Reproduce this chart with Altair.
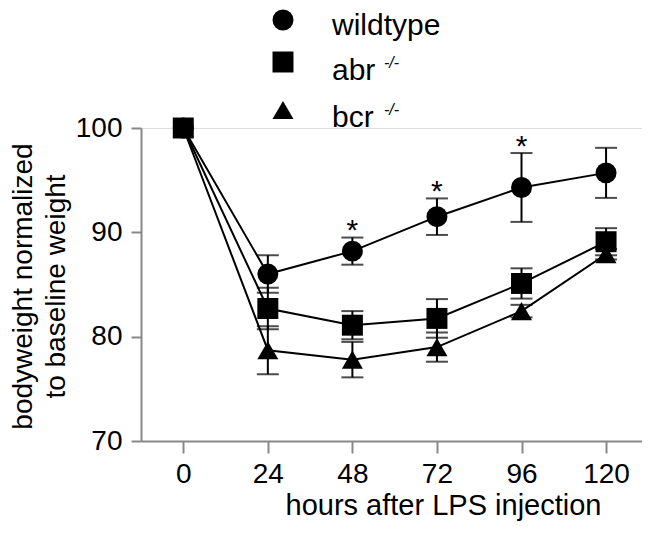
import altair as alt
import pandas as pd

# ---- data ----
hours = [0, 24, 48, 72, 96, 120]
series = ["wildtype", "abr", "bcr"]
superscripts = ["", "-/-", "-/-"]
shapes = ["circle", "square", "triangle-up"]

wildtype_mean = [100, 86.0, 88.2, 91.5, 94.3, 95.7]
wildtype_sem = [0, 1.8, 1.3, 1.75, 3.3, 2.4]
abr_mean = [100, 82.7, 81.1, 81.75, 85.1, 89.1]
abr_sem = [0, 2.0, 1.35, 1.85, 1.45, 1.3]
bcr_mean = [100, 78.7, 77.8, 79.0, 82.45, 87.9]
bcr_sem = [0, 2.3, 1.7, 1.4, 0.6, 0.5]
significant = [False, False, True, True, True, False]

x_ticks = [0, 24, 48, 72, 96, 120]
y_ticks = [70, 80, 90, 100]

FONT = "Liberation Sans"

# draw order: wildtype, bcr, abr (abr squares on top)
rows = []
for name, means, sems in [("wildtype", wildtype_mean, wildtype_sem),
                          ("bcr", bcr_mean, bcr_sem),
                          ("abr", abr_mean, abr_sem)]:
    for i, (h, m, s) in enumerate(zip(hours, means, sems)):
        rows.append({"series": name, "hours": h, "mean": m, "sem": s,
                     "lo": m - s, "hi": m + s,
                     "sig": bool(significant[i]) if name == "wildtype" else False})
df = pd.DataFrame(rows)

xscale = alt.Scale(domain=[-12, 130.2], nice=False, zero=False)
yscale = alt.Scale(domain=[70, 100], nice=False, zero=False)

xaxis = alt.Axis(values=x_ticks, title="hours after LPS injection", grid=False,
                 tickSize=12, tickWidth=2, domainWidth=2,
                 labelFontSize=28, labelBaseline="alphabetic", labelPadding=29,
                 labelFlush=False, labelOverlap=False,
                 titleFontSize=29, titleFontWeight="normal", titleX=302, titleY=73,
                 titleBaseline="alphabetic", titleAlign="center")
yaxis = alt.Axis(values=y_ticks, title=["bodyweight normalized", "to baseline weight"],
                 grid=False, tickSize=10, tickWidth=2, domainWidth=2,
                 labelFontSize=28, labelBaseline="middle", labelPadding=9,
                 labelFlush=False, labelOverlap=False,
                 titleFontSize=28, titleFontWeight="normal", titleAngle=270,
                 titleX=-110, titleY=158,
                 titleAlign="center", titleBaseline="alphabetic", titleLineHeight=33)

X = alt.X("hours:Q", scale=xscale, axis=xaxis)
shape_enc = alt.Shape("series:N", scale=alt.Scale(domain=series, range=shapes), legend=None)

base = alt.Chart(df)

lines = base.mark_line(color="black", strokeWidth=2).encode(
    x=X, y=alt.Y("mean:Q", scale=yscale, axis=yaxis), detail="series:N")

err = base.transform_filter("datum.sem > 0")
rules = err.mark_rule(color="black", strokeWidth=2).encode(
    x=X, y=alt.Y("lo:Q", scale=yscale, axis=yaxis), y2="hi:Q")
caps_lo = err.mark_tick(orient="horizontal", size=22, thickness=2, color="black").encode(
    x=X, y=alt.Y("lo:Q", scale=yscale, axis=yaxis))
caps_hi = err.mark_tick(orient="horizontal", size=22, thickness=2, color="black").encode(
    x=X, y=alt.Y("hi:Q", scale=yscale, axis=yaxis))

points = base.mark_point(filled=True, opacity=1, size=440, color="black").encode(
    x=X, y=alt.Y("mean:Q", scale=yscale, axis=yaxis), shape=shape_enc)

stars = base.transform_filter("datum.sig").mark_text(
    text="*", fontSize=30, font=FONT, baseline="alphabetic", dy=2.5, color="black").encode(
    x=X, y=alt.Y("hi:Q", scale=yscale, axis=yaxis))

# ---- manual legend above the plot ----
legend_sym_y = [-108, -66, -18]
legend_lab_y = [-93, -48, -1]
legend_layers = []
for i, (name, shp, sup) in enumerate(zip(series, shapes, superscripts)):
    one = alt.Chart(pd.DataFrame({"label": [name], "sup": [sup]}))
    legend_layers.append(one.mark_point(shape=shp, filled=True, opacity=1, size=440,
                                        color="black").encode(
        x=alt.value(142), y=alt.value(legend_sym_y[i])))
    legend_layers.append(one.mark_text(fontSize=30, font=FONT, align="left",
                                       baseline="alphabetic", color="black").encode(
        x=alt.value(191), y=alt.value(legend_lab_y[i]), text="label:N"))
    if sup:
        legend_layers.append(one.mark_text(fontSize=16, font=FONT, fontStyle="italic",
                                           align="left", baseline="alphabetic",
                                           color="black").encode(
            x=alt.value(243), y=alt.value(legend_lab_y[i] - 12), text="sup:N"))

chart = alt.layer(lines, rules, caps_lo, caps_hi, points, stars, *legend_layers).properties(
    width=501, height=313,
    autosize=alt.AutoSizeParams(type="none"),
    padding={"left": 133, "top": 120, "right": 0, "bottom": 81},
).configure_view(stroke=None).configure_axis(
    labelFont=FONT, titleFont=FONT, labelColor="black", titleColor="black",
    domainColor="black", tickColor="black", titleFontWeight="normal",
).configure(background="white")

chart.save("out.html", embed_options={"renderer": "svg", "actions": False})
